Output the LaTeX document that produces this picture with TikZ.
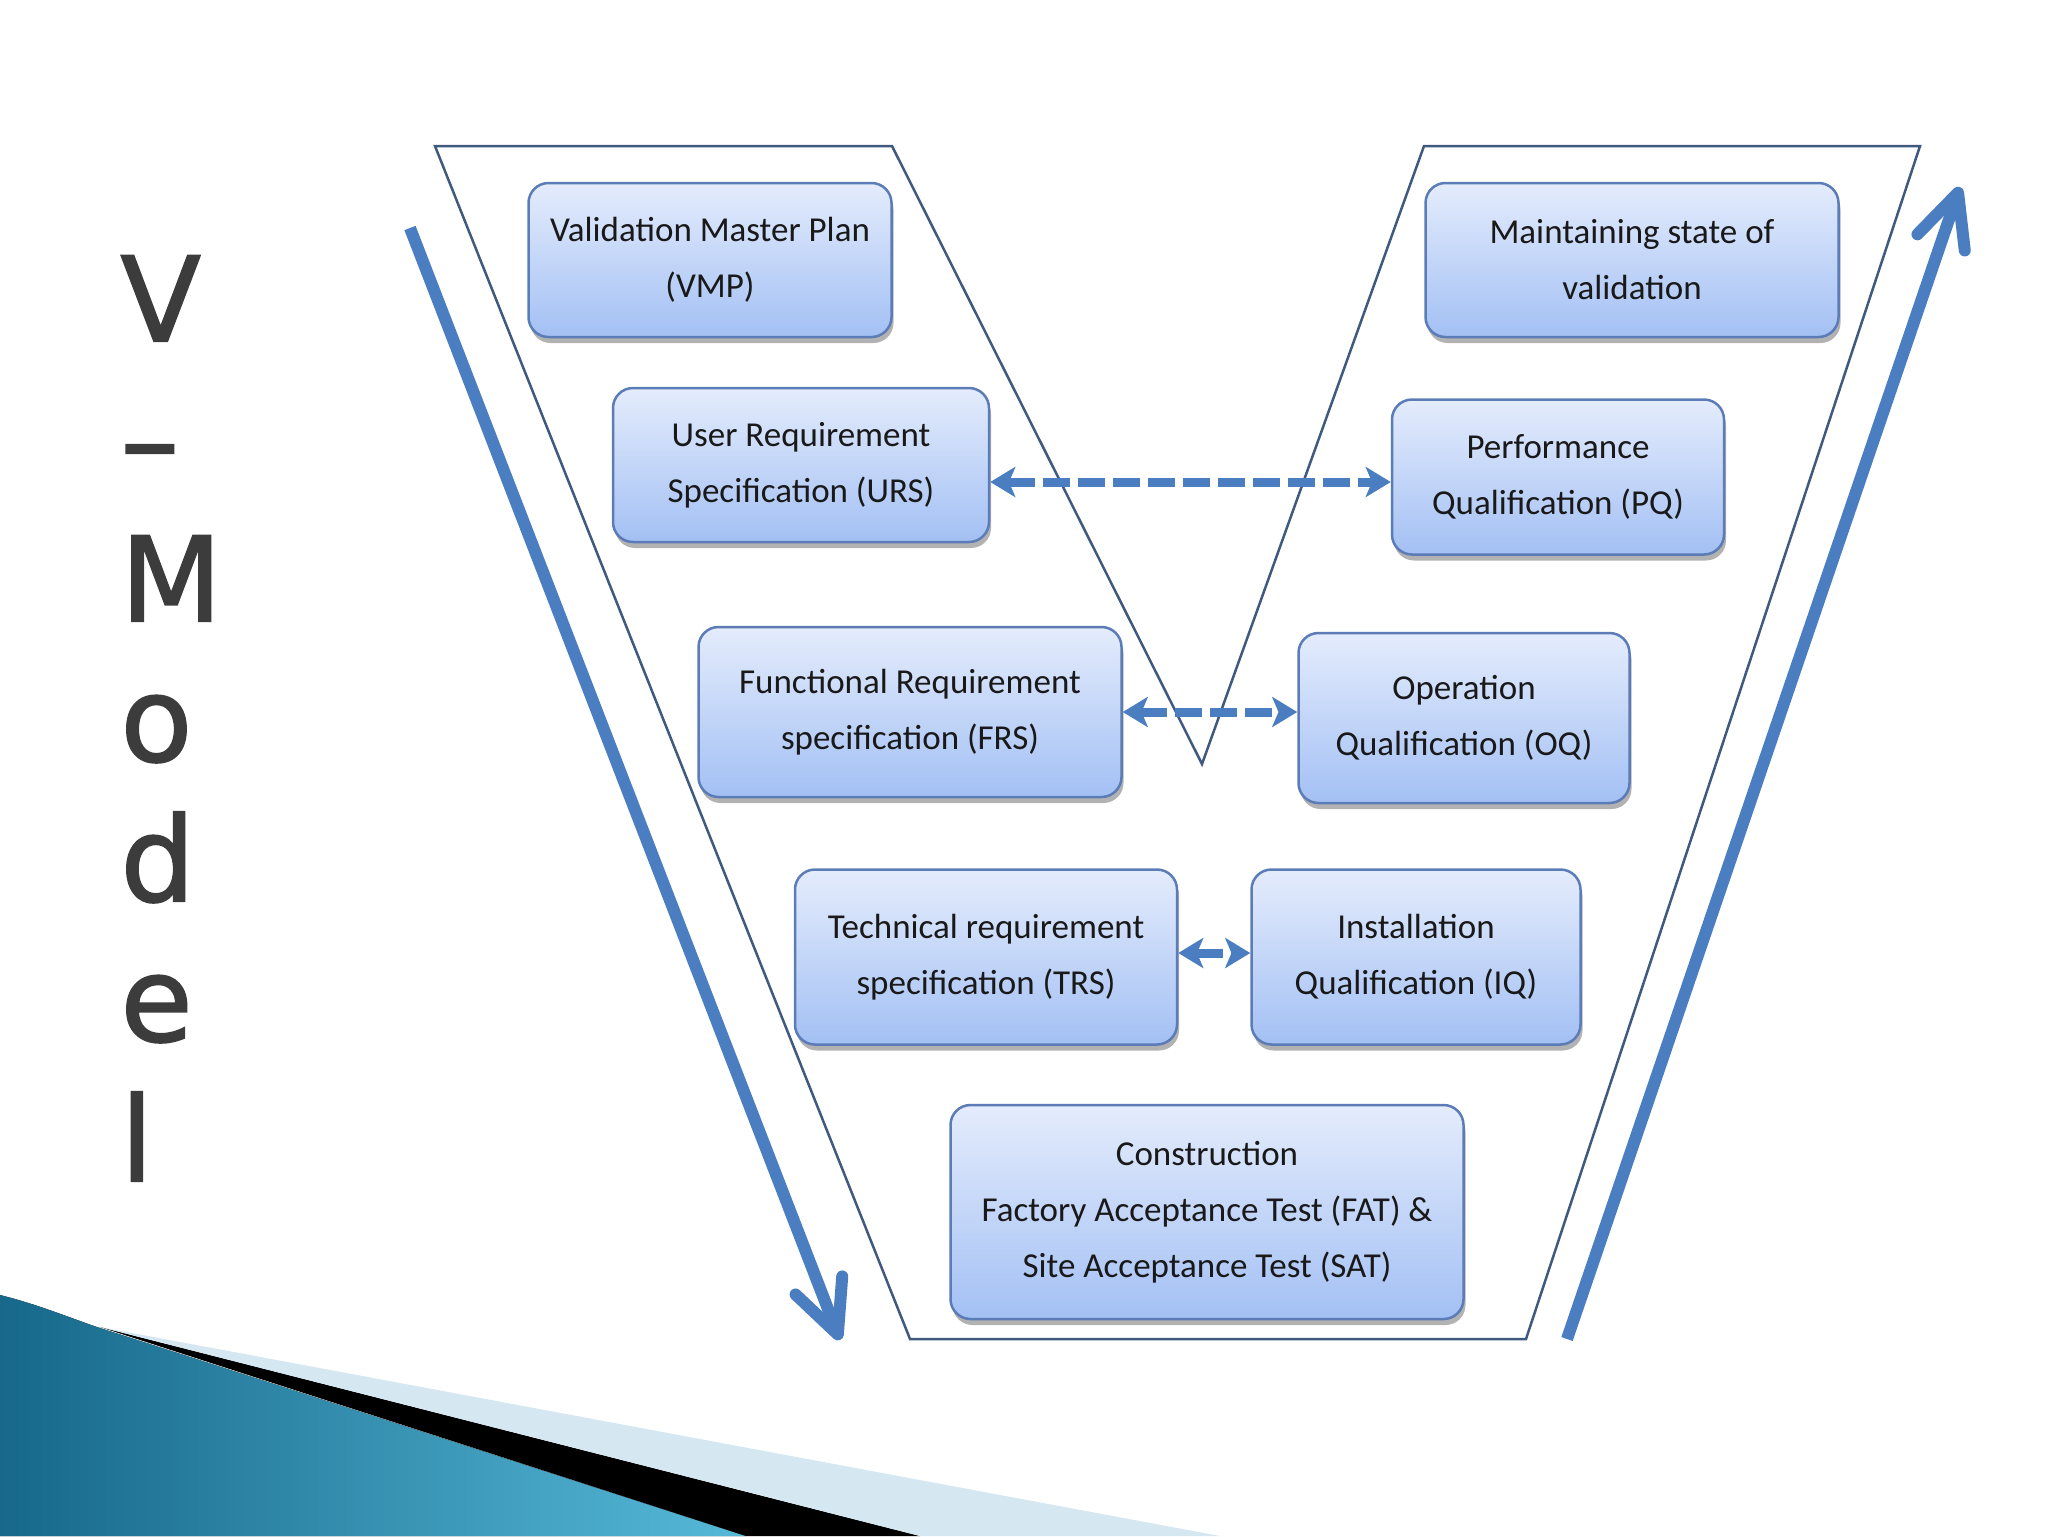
\documentclass[tikz,border=0pt]{standalone}
\usepackage{fontspec}
\setmainfont{Carlito}
\newfontfamily\titlefont[FakeBold=1.6]{DejaVu Sans}
\usetikzlibrary{arrows.meta,shadows}
\definecolor{vblue}{HTML}{4A7EC0}
\definecolor{vline}{HTML}{3F5A7E}
\definecolor{boxtop}{HTML}{E4ECFC}
\definecolor{boxbot}{HTML}{A3C0F4}
\definecolor{boxedge}{HTML}{5B7CB6}
\definecolor{tealdark}{HTML}{17688A}
\definecolor{teallight}{HTML}{56B9D8}
\definecolor{palestripe}{HTML}{D5E7F1}
\definecolor{titlegray}{HTML}{3C3C3C}
\tikzset{
  vbox/.style={draw=boxedge, line width=1pt, rounded corners=8pt,
    top color=boxtop, bottom color=boxbot, align=center, text=black!90,
    font=\fontsize{14}{22.4}\selectfont,
    drop shadow={shadow xshift=0.8pt, shadow yshift=-2.4pt, opacity=0.3, fill=black}},
  dasharrow/.style={vblue, line width=3.6pt, dash pattern=on 10.8pt off 3.2pt,
    {Stealth[length=10pt,width=12pt,inset=2.5pt]}-{Stealth[length=10pt,width=12pt,inset=2.5pt]}},
  bigarrow/.style={vblue, line width=4.8pt, -{Straight Barb[length=21pt,width=20pt,round]}},
}
\begin{document}
\begin{tikzpicture}[x=0.4pt,y=0.4pt,yscale=-1,xscale=1]
\useasboundingbox (0,0) rectangle (2048,1536);

%Swoosh at bottom left
\fill[left color=tealdark, right color=teallight] (0,1295) .. controls (40,1305) and (70,1318) .. (100,1328) -- (746,1536) -- (0,1536) -- cycle;
\fill[black] (100,1327) -- (920,1536) -- (746,1536) -- cycle;
\fill[palestripe] (100,1327) -- (1220,1536) -- (920,1536) -- cycle;

%V outline
\draw[vline, line width=1pt] (435,146) -- (892,146) -- (1202,764) -- (1424,146) -- (1920,146) -- (1526,1339) -- (910,1339) -- cycle;

% Title
\node[anchor=north west, inner sep=0pt, align=left, text=titlegray, font=\titlefont\fontsize{47}{56}\selectfont] (title) at (120,255) {V\\–\\M\\o\\d\\e\\l};

% Left side
\node[vbox, minimum width=145.2pt, minimum height=61.6pt] (vmp) at (710,260) {Validation Master Plan\\(VMP)};
\node[vbox, minimum width=150.4pt, minimum height=61.6pt] (urs) at (801,465) {User Requirement\\Specification (URS)};
\node[vbox, minimum width=169.2pt, minimum height=68pt] (frs) at (910,712) {Functional Requirement\\specification (FRS)};
\node[vbox, minimum width=152.8pt, minimum height=70pt] (trs) at (986,957) {Technical requirement\\specification (TRS)};
% Bottom
\node[vbox, minimum width=205.2pt, minimum height=85.6pt] (con) at (1207,1212) {Construction\\Factory Acceptance Test (FAT) \&\\Site Acceptance Test (SAT)};
% Right side
\node[vbox, minimum width=165.2pt, minimum height=61.6pt] (msv) at (1632,260) {Maintaining state of\\validation};
\node[vbox, minimum width=132.8pt, minimum height=62pt] (pq) at (1558,477) {Performance\\Qualification (PQ)};
\node[vbox, minimum width=132.4pt, minimum height=68pt] (oq) at (1464,718) {Operation\\Qualification (OQ)};
\node[vbox, minimum width=131.6pt, minimum height=70pt] (iq) at (1416,957) {Installation\\Qualification (IQ)};

% Dashed links
\draw[dasharrow] ([yshift=6.8pt]urs.east) -- ([yshift=6.8pt]urs.east -| pq.west);
\draw[dasharrow] (frs.east) -- (frs.east -| oq.west);
\draw[dasharrow] ([yshift=-1.6pt]trs.east) -- ([yshift=-1.6pt]trs.east -| iq.west);

% Big arrows
\coordinate (downstart) at (410,228);
\coordinate (downend) at (840,1340);
\coordinate (upstart) at (1567,1339);
\coordinate (upend) at (1960,187);
\draw[bigarrow] (downstart) -- (downend);
\draw[bigarrow] (upstart) -- (upend);

\end{tikzpicture}
\end{document}
